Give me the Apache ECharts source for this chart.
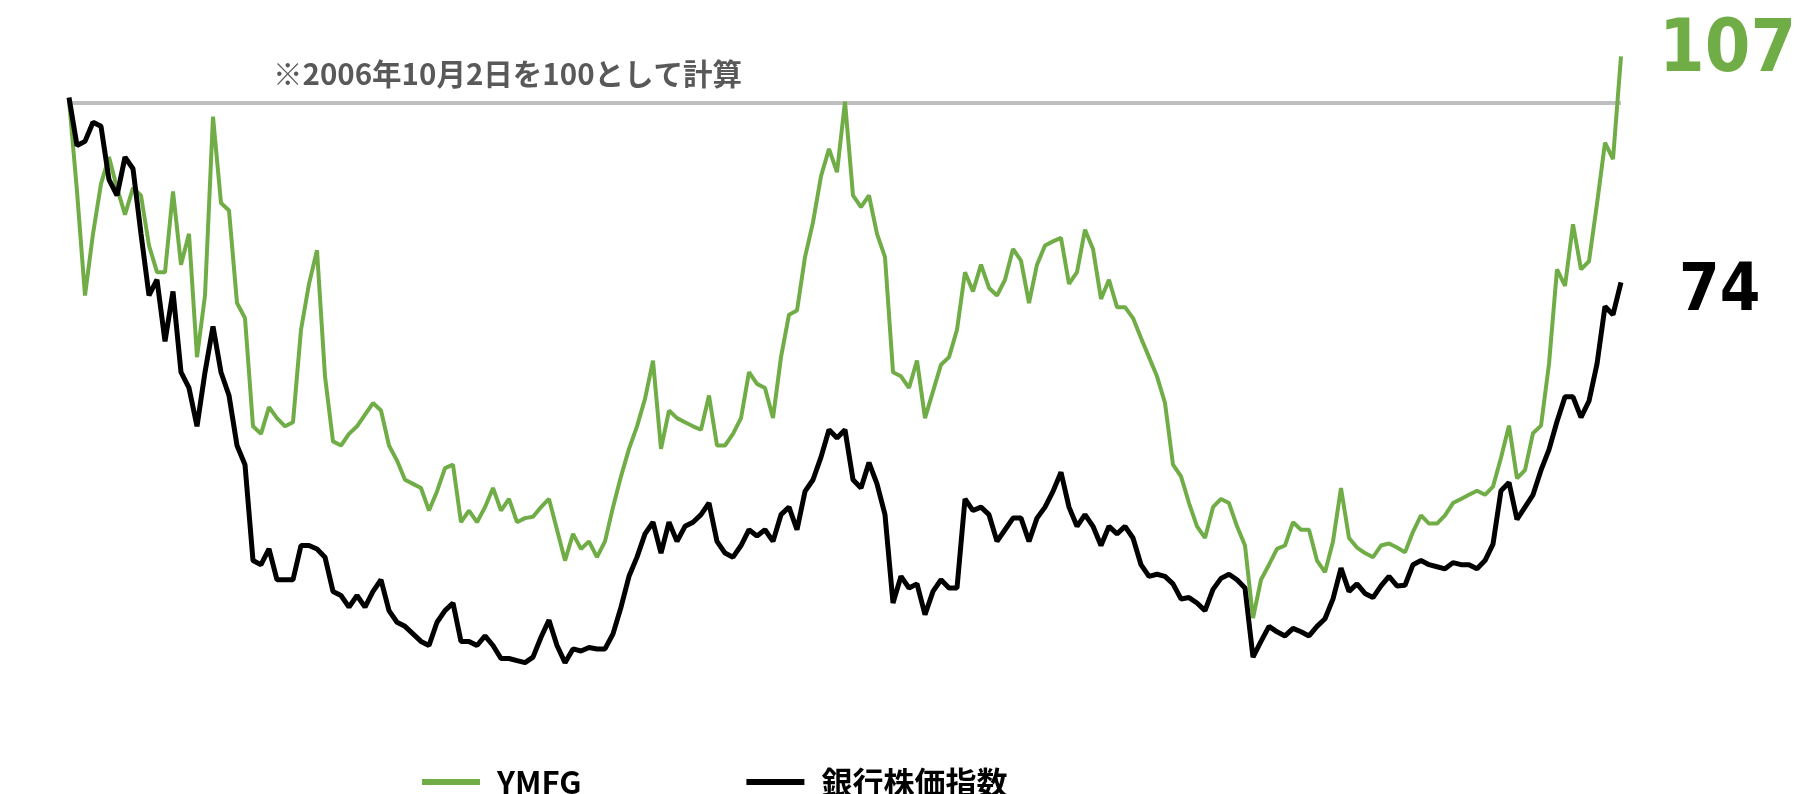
<!DOCTYPE html>
<html>
<head>
<meta charset="utf-8">
<script src="https://cdn.jsdelivr.net/npm/echarts@6/dist/echarts.min.js"></script>
<style>
html,body{margin:0;padding:0;background:#fff;}
#chart{width:1800px;height:794px;}
</style>
</head>
<body>
<div id="chart"></div>
<script>
// Index values (2006-10-02 = 100), sampled at equal time steps
const ymfg = [
100.5, 87.1, 71.9, 80.9, 88.2, 92.1, 87.6, 83.7, 87.6, 86.5, 79.2, 75.3, 75.3, 87.1, 76.4, 80.9, 62.9, 71.9, 98.0, 85.4, 84.3, 70.8, 68.6, 52.8,
51.7, 55.6, 54.0, 52.8, 53.4, 66.9, 73.6, 78.5, 60.1, 50.6, 50.0, 51.7, 52.8, 54.5, 56.2, 55.1, 50.0, 47.8, 45.0, 44.4, 43.8, 40.5, 43.3, 46.7,
47.2, 38.8, 40.5, 38.8, 41.0, 43.8, 40.5, 42.2, 38.8, 39.4, 39.6, 41.0, 42.2, 37.7, 33.2, 37.1, 34.9, 36.0, 33.7, 36.0, 41.0, 45.5, 49.5, 52.8,
56.8, 62.4, 49.5, 55.1, 54.0, 53.4, 52.8, 52.3, 57.3, 50.0, 50.0, 51.7, 54.0, 60.7, 59.0, 58.4, 54.0, 62.9, 69.1, 69.7, 77.5, 82.6, 89.3, 93.3,
89.9, 100.2, 86.5, 84.8, 86.5, 80.9, 77.5, 60.7, 60.1, 58.4, 62.4, 54.0, 57.9, 61.8, 62.9, 66.9, 75.3, 72.5, 76.4, 73.0, 71.9, 74.2, 78.7,
77.0, 70.8, 76.4, 79.2, 79.8, 80.3, 73.6, 75.3, 81.5, 78.7, 71.4, 74.2, 70.2, 70.2, 68.6, 65.7, 62.9, 60.1, 56.2, 47.2, 45.5, 41.6, 38.2, 36.5,
41.0, 42.2, 41.6, 38.2, 35.4, 24.8, 30.4, 32.6, 34.9, 35.4, 38.8, 37.7, 37.7, 33.2, 31.5, 36.0, 43.8, 36.5, 35.1, 34.3, 33.7, 35.4, 35.7, 35.1,
34.4, 37.4, 39.8, 38.6, 38.6, 39.8, 41.6, 42.2, 42.8, 43.4, 42.8, 44.0, 48.2, 52.9, 45.2, 46.4, 51.8, 52.9, 61.9, 75.7, 73.3, 82.3, 75.7, 76.9, 85.3, 94.2, 91.8, 106.8
];
const bank = [
100.8, 93.8, 94.4, 97.2, 96.6, 88.8, 86.5, 92.1, 90.4, 80.9, 71.9, 74.2, 65.2, 72.5, 60.7, 58.4, 52.8, 60.7, 67.4, 60.7, 57.3, 50.0, 47.2, 33.2,
32.6, 34.9, 30.4, 30.4, 30.4, 35.4, 35.4, 34.9, 33.7, 28.7, 28.1, 26.4, 28.1, 26.4, 28.7, 30.4, 25.9, 24.2, 23.6, 22.5, 21.4, 20.8, 24.2, 25.9,
27.0, 21.4, 21.4, 20.8, 22.2, 20.8, 18.9, 18.9, 18.6, 18.3, 19.1, 22.0, 24.5, 20.8, 18.3, 20.3, 20.0, 20.5, 20.3, 20.3, 22.5, 26.4, 30.9, 33.7,
37.1, 38.8, 34.3, 38.8, 36.0, 38.2, 38.8, 39.9, 41.6, 36.0, 34.3, 33.7, 35.4, 37.7, 36.8, 37.7, 36.0, 39.9, 41.0, 37.7, 43.3, 45.0, 48.3, 52.3,
51.1, 52.3, 45.0, 43.8, 47.5, 44.4, 39.9, 27.0, 30.9, 29.2, 29.8, 25.3, 28.7, 30.4, 29.2, 29.2, 42.2, 40.5, 41.0, 39.9, 36.0, 37.7, 39.4,
39.4, 36.0, 39.4, 41.0, 43.3, 46.1, 41.0, 38.2, 39.9, 38.2, 35.4, 38.2, 37.1, 38.2, 36.5, 32.6, 30.9, 31.2, 30.9, 29.8, 27.6, 27.8, 27.0, 25.9,
29.0, 30.6, 31.2, 30.4, 29.2, 19.1, 21.4, 23.6, 22.8, 22.2, 23.3, 22.8, 22.2, 23.6, 24.7, 27.6, 32.1, 28.7, 29.8, 28.4, 27.8, 29.5, 30.9, 29.5,
29.6, 32.6, 33.2, 32.6, 32.3, 32.0, 32.9, 32.6, 32.6, 32.0, 33.2, 35.6, 43.4, 44.6, 39.2, 41.0, 42.8, 46.4, 49.4, 53.5, 57.1, 57.1, 54.1, 56.5, 61.9, 70.3, 69.1, 73.8
];
const seriesNames = ['YMFG', '銀行株価指数'];
const baseValue = 100;
const noteText = '※2006年10月2日を100として計算';
const steps = ymfg.map((_, i) => i);

const chart = echarts.init(document.getElementById('chart'), null, {renderer: 'canvas'});
const jp = '"Noto Sans CJK JP", "Noto Sans", sans-serif';
const numFont = '"DejaVu Sans Condensed", "DejaVu Sans", sans-serif';
chart.setOption({
  animation: false,
  backgroundColor: '#ffffff',
  grid: {left: 69, right: 179, top: 34.5, bottom: 74.5, containLabel: false},
  xAxis: {type: 'category', data: steps, boundaryGap: false, show: false},
  yAxis: {type: 'value', min: 10, max: 110, show: false, splitLine: {show: false}},
  legend: {
    data: seriesNames,
    left: 422, top: 765, padding: 0,
    icon: 'rect', itemWidth: 58, itemHeight: 6, itemGap: 165,
    textStyle: {fontFamily: jp, fontSize: 31, fontWeight: 'bold', color: '#000', padding: [0, 0, 0, 12], lineHeight: 34}
  },
  graphic: [{
    type: 'text', left: 273, top: 59,
    style: {text: noteText, font: 'bold 29.5px ' + jp, fill: '#595959'}
  }],
  series: [
    {
      name: 'ref', type: 'line', data: steps.map(() => baseValue), symbol: 'none', silent: true,
      lineStyle: {color: '#BFBFBF', width: 4}, z: 1
    },
    {
      name: seriesNames[0], type: 'line', data: ymfg, symbol: 'none', z: 2,
      itemStyle: {color: '#70AD47'},
      lineStyle: {color: '#70AD47', width: 4},
      endLabel: {show: true, formatter: p => Math.round(p.value), offset: [30, -4],
        fontFamily: numFont, fontWeight: 'bold', fontSize: 73, color: '#70AD47'}
    },
    {
      name: seriesNames[1], type: 'line', data: bank, symbol: 'none', z: 3,
      itemStyle: {color: '#000000'},
      lineStyle: {color: '#000000', width: 5},
      endLabel: {show: true, formatter: p => Math.round(p.value), offset: [50, 11],
        fontFamily: numFont, fontWeight: 'bold', fontSize: 65, color: '#000000'}
    }
  ]
});
</script>
</body>
</html>
